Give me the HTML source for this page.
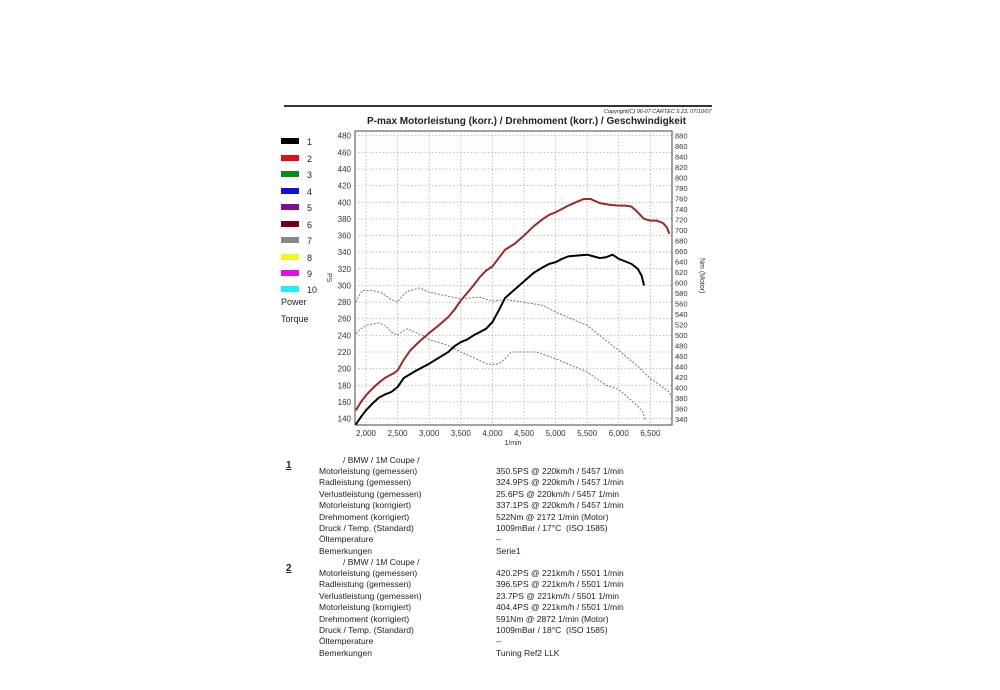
<!DOCTYPE html>
<html><head><meta charset="utf-8"><style>
body{margin:0;background:#fff;width:1000px;height:690px;position:relative;overflow:hidden;font-family:"Liberation Sans",sans-serif;color:#222}
.t{position:absolute;font-size:8.5px;white-space:nowrap;line-height:11.4px}
.sw{position:absolute;left:281px;width:18px;height:6px}
.lg{position:absolute;left:307px;font-size:9px;line-height:10px}
</style></head><body>
<div style="position:absolute;left:284px;top:105px;width:428px;height:2px;background:#333"></div>
<div class="t" style="left:604px;top:107px;font-size:5.5px;font-style:italic">Copyright(C) 96-07 CARTEC 5.23, 07/10/07</div>
<div class="t" style="left:367px;top:116px;font-size:10px;font-weight:bold">P-max Motorleistung (korr.) / Drehmoment (korr.) / Geschwindigkeit</div>

<div class="sw" style="top:138px;background:#000"></div><div class="lg" style="top:137px">1</div>
<div class="sw" style="top:155px;background:#e21010"></div><div class="lg" style="top:154px">2</div>
<div class="sw" style="top:171px;background:#0a8a1a"></div><div class="lg" style="top:170px">3</div>
<div class="sw" style="top:188px;background:#1010e0"></div><div class="lg" style="top:187px">4</div>
<div class="sw" style="top:204px;background:#801090"></div><div class="lg" style="top:203px">5</div>
<div class="sw" style="top:221px;background:#700010"></div><div class="lg" style="top:220px">6</div>
<div class="sw" style="top:237px;background:#888"></div><div class="lg" style="top:236px">7</div>
<div class="sw" style="top:254px;background:#f4f420"></div><div class="lg" style="top:253px">8</div>
<div class="sw" style="top:270px;background:#e010e0"></div><div class="lg" style="top:269px">9</div>
<div class="sw" style="top:286px;background:#20f0f0"></div><div class="lg" style="top:285px">10</div>
<div class="lg" style="left:281px;top:297px">Power</div>
<div class="lg" style="left:281px;top:314px">Torque</div>

<svg style="position:absolute;left:0;top:0" width="1000" height="690" font-family="Liberation Sans, sans-serif" font-size="8" fill="#333">
<rect x="355" y="131" width="317" height="294" fill="none" stroke="#444" stroke-width="1"/>
<g stroke="#b0b0b0" stroke-width="0.8" stroke-dasharray="1.5,2">
<line x1="366" y1="131" x2="366" y2="425"/><line x1="397.6" y1="131" x2="397.6" y2="425"/><line x1="429.2" y1="131" x2="429.2" y2="425"/><line x1="460.8" y1="131" x2="460.8" y2="425"/><line x1="492.4" y1="131" x2="492.4" y2="425"/><line x1="524" y1="131" x2="524" y2="425"/><line x1="555.6" y1="131" x2="555.6" y2="425"/><line x1="587.2" y1="131" x2="587.2" y2="425"/><line x1="618.8" y1="131" x2="618.8" y2="425"/><line x1="650.4" y1="131" x2="650.4" y2="425"/>
<line x1="355" y1="135.7" x2="672" y2="135.7"/><line x1="355" y1="152.3" x2="672" y2="152.3"/><line x1="355" y1="169" x2="672" y2="169"/><line x1="355" y1="185.6" x2="672" y2="185.6"/><line x1="355" y1="202.3" x2="672" y2="202.3"/><line x1="355" y1="218.9" x2="672" y2="218.9"/><line x1="355" y1="235.5" x2="672" y2="235.5"/><line x1="355" y1="252.2" x2="672" y2="252.2"/><line x1="355" y1="268.8" x2="672" y2="268.8"/><line x1="355" y1="285.5" x2="672" y2="285.5"/><line x1="355" y1="302.1" x2="672" y2="302.1"/><line x1="355" y1="318.7" x2="672" y2="318.7"/><line x1="355" y1="335.4" x2="672" y2="335.4"/><line x1="355" y1="352" x2="672" y2="352"/><line x1="355" y1="368.7" x2="672" y2="368.7"/><line x1="355" y1="385.3" x2="672" y2="385.3"/><line x1="355" y1="401.9" x2="672" y2="401.9"/><line x1="355" y1="418.6" x2="672" y2="418.6"/>
</g>
<g text-anchor="end">
<text x="351" y="138.7">480</text><text x="351" y="155.3">460</text><text x="351" y="172">440</text><text x="351" y="188.6">420</text><text x="351" y="205.3">400</text><text x="351" y="221.9">380</text><text x="351" y="238.5">360</text><text x="351" y="255.2">340</text><text x="351" y="271.8">320</text><text x="351" y="288.5">300</text><text x="351" y="305.1">280</text><text x="351" y="321.7">260</text><text x="351" y="338.4">240</text><text x="351" y="355">220</text><text x="351" y="371.7">200</text><text x="351" y="388.3">180</text><text x="351" y="404.9">160</text><text x="351" y="421.6">140</text>
</g>
<g font-size="7.5">
<text x="675" y="138.5">880</text><text x="675" y="149">860</text><text x="675" y="159.5">840</text><text x="675" y="170">820</text><text x="675" y="180.5">800</text><text x="675" y="191">780</text><text x="675" y="201.5">760</text><text x="675" y="212">740</text><text x="675" y="222.5">720</text><text x="675" y="233">700</text><text x="675" y="243.5">680</text><text x="675" y="254">660</text><text x="675" y="264.5">640</text><text x="675" y="275">620</text><text x="675" y="285.5">600</text><text x="675" y="296">580</text><text x="675" y="306.5">560</text><text x="675" y="317">540</text><text x="675" y="327.5">520</text><text x="675" y="338">500</text><text x="675" y="348.5">480</text><text x="675" y="359">460</text><text x="675" y="369.5">440</text><text x="675" y="380">420</text><text x="675" y="390.5">400</text><text x="675" y="401">380</text><text x="675" y="411.5">360</text><text x="675" y="422">340</text>
</g>
<text x="0" y="0" font-size="7" transform="translate(327,273) rotate(90)">PS</text>
<text x="0" y="0" font-size="7" transform="translate(700,258) rotate(90)">Nm (Motor)</text>
<g text-anchor="middle">
<text x="366" y="436">2,000</text><text x="397.6" y="436">2,500</text><text x="429.2" y="436">3,000</text><text x="460.8" y="436">3,500</text><text x="492.4" y="436">4,000</text><text x="524" y="436">4,500</text><text x="555.6" y="436">5,000</text><text x="587.2" y="436">5,500</text><text x="618.8" y="436">6,000</text><text x="650.4" y="436">6,500</text>
<text x="513" y="445" font-size="7">1/min</text>
</g>
<g transform="matrix(0.0632 0 0 -0.832 239.6 535.1)" fill="none" stroke-linejoin="round">
<polyline vector-effect="non-scaling-stroke" stroke="#777" stroke-width="1" stroke-dasharray="2,1.5" points="1840,280 1900,289 1950,294 2100,294 2250,291 2400,283 2500,280 2560,286 2650,293 2850,297 3000,292 3300,287 3500,284 3800,286 4000,281 4200,283 4500,280 4800,276 5000,268 5500,252 6000,222 6300,203 6500,188 6600,183 6800,172 6840,165"/>
<polyline vector-effect="non-scaling-stroke" stroke="#777" stroke-width="1" stroke-dasharray="2,1.5" points="1840,242 1900,247 2000,252 2200,255 2300,252 2400,244 2500,240 2560,244 2650,248 2900,240 3000,235 3300,228 3500,220 3800,210 3900,206 4000,205 4100,206 4200,212 4300,220 4700,220 5000,212 5500,196 5800,180 6000,175 6300,155 6380,148 6420,138"/>
<polyline vector-effect="non-scaling-stroke" stroke="#9a2a22" stroke-width="2" points="1840,150 1920,160 2000,168 2100,176 2200,183 2300,189 2400,193 2450,195 2500,198 2600,211 2700,222 2850,233 3000,243 3150,252 3300,262 3400,271 3500,282 3600,291 3700,300 3800,310 3900,318 4000,323 4100,333 4200,343 4350,350 4500,360 4650,371 4800,380 4900,385 5000,388 5100,392 5200,396 5350,401 5450,404 5550,404 5700,399 5850,397 6000,396 6100,396 6200,395 6300,388 6400,380 6500,378 6600,378 6700,375 6760,370 6800,362"/>
<polyline vector-effect="non-scaling-stroke" stroke="#000" stroke-width="2" points="1840,133 1920,142 2000,150 2100,158 2200,165 2300,169 2400,172 2500,178 2600,189 2800,198 3000,206 3150,213 3300,220 3400,227 3500,232 3600,235 3700,240 3800,244 3900,248 4000,256 4100,270 4200,285 4350,295 4500,305 4650,315 4800,322 4900,326 5000,328 5100,332 5200,335 5350,336 5500,337 5600,335 5700,333 5800,334 5900,337 6000,332 6100,329 6200,326 6300,320 6360,312 6400,300"/>
</g>
</svg>

<div class="t" style="left:286px;top:460px;font-size:10px;font-weight:bold;text-decoration:underline">1</div>
<div class="t" style="left:286px;top:563px;font-size:10px;font-weight:bold;text-decoration:underline">2</div>
<div class="t" style="left:343px;top:455px">/ BMW / 1M Coupe /</div>
<div class="t" style="left:319px;top:466px">Motorleistung (gemessen)<br>Radleistung (gemessen)<br>Verlustleistung (gemessen)<br>Motorleistung (korrigiert)<br>Drehmoment (korrigiert)<br>Druck / Temp. (Standard)<br>Öltemperature<br>Bemerkungen</div>
<div class="t" style="left:496px;top:466px">350.5PS @ 220km/h / 5457 1/min<br>324.9PS @ 220km/h / 5457 1/min<br>25.6PS @ 220km/h / 5457 1/min<br>337.1PS @ 220km/h / 5457 1/min<br>522Nm @ 2172 1/min (Motor)<br>1009mBar / 17°C &nbsp;(ISO 1585)<br>--<br>Serie1</div>
<div class="t" style="left:343px;top:557px">/ BMW / 1M Coupe /</div>
<div class="t" style="left:319px;top:568px">Motorleistung (gemessen)<br>Radleistung (gemessen)<br>Verlustleistung (gemessen)<br>Motorleistung (korrigiert)<br>Drehmoment (korrigiert)<br>Druck / Temp. (Standard)<br>Öltemperature<br>Bemerkungen</div>
<div class="t" style="left:496px;top:568px">420.2PS @ 221km/h / 5501 1/min<br>396.5PS @ 221km/h / 5501 1/min<br>23.7PS @ 221km/h / 5501 1/min<br>404.4PS @ 221km/h / 5501 1/min<br>591Nm @ 2872 1/min (Motor)<br>1009mBar / 18°C &nbsp;(ISO 1585)<br>--<br>Tuning Ref2 LLK</div>
</body></html>
